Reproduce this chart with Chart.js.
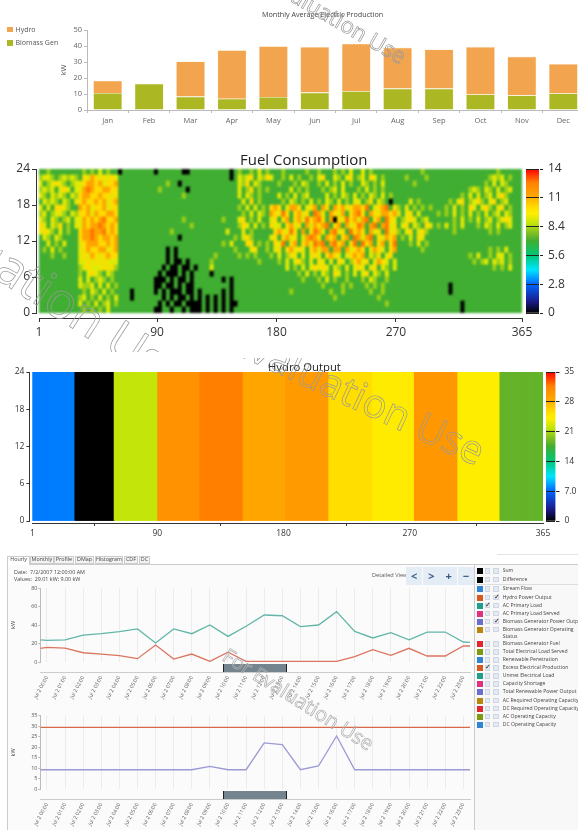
<!DOCTYPE html>
<html><head><meta charset="utf-8">
<script src="https://cdn.jsdelivr.net/npm/chart.js@4"></script>
<style>
html,body{margin:0;padding:0;background:#fff;overflow:hidden}
#stage{position:relative;width:578px;height:830px;overflow:hidden;filter:blur(.45px);font-family:"Open Sans",sans-serif;color:#444}
#stage canvas{position:absolute}
.t{position:absolute;white-space:pre;line-height:1}
.box{position:absolute;box-sizing:border-box}
.wmc{position:absolute;overflow:hidden;left:0;width:578px}
.wm{position:absolute;white-space:pre;transform-origin:0 0;color:transparent;-webkit-text-stroke:.7px #999;line-height:1}
</style></head><body><div id="stage"></div>
<script>
/* ---------- data ---------- */
const months=['Jan','Feb','Mar','Apr','May','Jun','Jul','Aug','Sep','Oct','Nov','Dec'];
const monthDays=[31,28,31,30,31,30,31,31,30,31,30,31];
const hydroMonthly=[7.6,0,21.9,30.3,31.7,28.6,29.6,25.6,24.4,29.8,24.2,18.5];
const biomassMonthly=[10.7,16.4,8.4,7.1,8.2,10.9,11.8,13.4,13.4,9.7,9.2,10.3];
const heatXTicks=[1,90,180,270,365];
const heatYTicks=[0,6,12,18,24];
const fuelBarTicks=[0,2.8,5.6,8.4,11.2,14];
const fuelBarLabels=['0','2.8','5.6','8.4','11','14'];
const hydroBarTicks=[0,7,14,21,28,35];
const hydroBarLabels=['0','7.0','14','21','28','35'];
const fuelLevels={'.':7,'0':0,'8':8.2,'9':9.2,'a':10.3,'b':11.5,'c':12.8};
/* hour 23 first, hour 0 last; one character per 3 days */
const fuelRows=[
"..8....... .8.8.9.8.. 0........0 ......00.. ........0. 8..8.9.8.. .8.....8.. 8...8.8.9. .9.8...... ......8... .......... .....8.... ..",
"8998.89898 .a9ba9a9a9 .......... .......... ........0. 989a.98a9. .8.9.8..8. 9a..98.9a. 89.a9.8... ..8....8.. .......... ...8989.8. ..",
"9.89a98.89 9abbab9aab .......... ..8..0.... .......... 98a.98.... 8...8.98.. 8.9.8.9.8. .98.8.9... ....8..... .......... ..8.9.98.. ..",
"8989.9a9.9 9bcbaabbaa .......... 8......0.. .......... 9.8a.8.8.. ...9.8.8.. .8.89.9... 8.9.8.8... .......... ........89 8.98.9.89. ..",
"98.9898.98 abbaabaa9a .......... ......8... .......... 9.98.8.... 9.8.9.89.. ..9.8.98.9 .8.98.9.8. .......... ......8.9. 9.89.9a8.. ..",
".9898.98.9 abaabab9ab .......... .......... .......... .9.a.8.... .8.98.8.9. 8.98.9.8.9 9.8a.98.0. ...9.8.... ...8.9a.89 a8.9a.89.. ..",
"9.9.aa98.. bab9aab9aa .......... .......... .......... 8.9.9.8.ab a.9bba.9ab .ba.bab9ab bac.9abc.a 8.9.8.8.8. ..8.9.8.a9 .9a8.9a.8. ..",
"89.8998.98 aab9baabba .......... .......... .......... .8.9.98.ba 9ca.ab9a.c b9.ba9b.ab ca.ba9bbab 9.9a.9.... 8.8.9.8.9. 8.9.89.98. ..",
"98.98.89.9 9bababcaab .......... ......8... ......8... 9a.8.9..9a .ab.ab9cab ca.b0a9cab 9bc.ab.ca9 .89a9.89.. ....8.9.8. 9.89.89a9. ..",
"a9.98a.8.9 9babbcbaba .......... ........8. .......... 8a9.9.8.a9 9.ab9a.b9b abc.ab.b9a cb.bc.bc9a .9a.98.a9. 8.9.8.9... 8.98.9.89. ..",
"9a98.9.8.. abbcbbcaba .......... ...8...... .......9.. .9.8.....a ba9ca.b.ac b9.bc9a.ca ba.b9a.c9a 8.9a.9a8.. ....8..... ...8.8.... ..",
".98.98.... abbcbabbab .......... .....0.... .........8 .9a8....9a .ab9a.9bcb a.bab.ab.c b9bc.a9bab .8.9.a9... .......... .......... ..",
"..9.8.9... 9abbbaabab .......... .......... ......8.9. ..aa.8.8.a 9c.ab.ab9c bc.bcab.ac .cab.ab.ac ...8.9.8.. .......... .......... ..",
".8.9.8.... 9abaabb9ab .......... ..0.0..... .........8 ...9a..8.9 a.ab9a9.ab 9bb.bb.b9a ba.9ba9.ab ......8... .......... ...8.8.9.. ..",
"...8..8... 9a9ba9abaa .......... ..0.0..... ....8..... 8.8.8...8. 9.8a9.9.9a 9.aba9.9ab ab.98a.9a. .......... ........8. 9..8.99.8. ..",
".......... 99a9a9a999 .......... ..0.00.0.. ...8...... .....8.... 8.9.9a8.9. a9.9.a9.8a b9a.9ba9.9 .......... .........8 .89.989.8. ..",
".......... 89a999a9a8 .......... .0.00.00.0 ...9...... .......... ..9.8.9.9a 9a9.98.9.9 a9.9a.98.9 .......... .......... ....8.8.9. ..",
".......... 8.9a98.98. .......... 0.000.0.0. ...0...... .......... .....8.9.8 .98.a9.8.9 .9a.98.9.. .......... .......... .......... ..",
".......... 9.9.898.8. .........0 00.0.00.0. ......0.0. .......... ......8... 8.9.8..8.. .8.98..8.. .......... .......... .......... ..",
".......... 9889.9.9.8 .........0 0.00.0.00. ........0. .......... .......... .8....8.8. ..8.8.8... .......... ...0...... .......... ..",
".......... .8.98.9.8. ...0.....0 .0.000.00. 0.....0.0. .......... ...8...... ...8..8... ...8..8... .......... ...0...... .......... ..",
".......... 89.8.9.8.9 ...0...... .0.0.00.0. 0.0.0.0.0. .......... .......... ....8..... .....8.... .......... .......... .......... ..",
".......... 9.8.9.89.8 .......... 0.0.00.000 0.0.0.0.00 .......... .......... .......... .......8.. .......... ......0... .......... ..",
".......... .8.8.8.9.. .........0 0..0..0.00 0.0.0.0.0. .......... .......... .......... .......... .......... ......0... .......... .."
];
const lineHours=[-0.37,0,1,2,3,4,5,6,7,8,9,10,11,12,13,14,15,16,17,18,19,20,21,22,23,23.37];
const tickHours=[0,1,2,3,4,5,6,7,8,9,10,11,12,13,14,15,16,17,18,19,20,21,22,23];
const acPrimaryLoad=[24,23.4,24,29,30.6,32.8,35.7,20.5,35.7,30.6,40,27.7,38.6,50.8,50,38.2,40,54.4,33,26,31.7,24,32.4,32.4,21.6,21.3];
const excessProduction=[14.8,15.8,15,10,8.6,6.8,3.6,18.4,3.2,8.6,.7,10.5,.7,.7,.7,.7,.7,.7,5.8,13.3,7.2,14.8,6.5,6.5,17.3,17.3];
const hydroPower=[29.4,29.4,29.4,29.4,29.4,29.4,29.4,29.4,29.4,29.4,29.4,29.4,29.4,29.4,29.4,29.4,29.4,29.4,29.4,29.4,29.4,29.4,29.4,29.4,29.4,29.4];
const biomassPower=[9.2,9.2,9.2,9.2,9.2,9.2,9.2,9.2,9.2,9.2,10.8,9.2,9.2,22,21.2,9.2,11,25.3,9.2,9.2,9.2,9.2,9.2,9.2,9.2,9.2];
const tabs=['Hourly','Monthly','Profile','DMap','Histogram','CDF','DC'];
const listNames=['Sum','Difference','Stream Flow','Hydro Power Output','AC Primary Load','AC Primary Load Served','Biomass Generator Power Output','Biomass Generator Operating\nStatus','Biomass Generator Fuel','Total Electrical Load Served','Renewable Penetration','Excess Electrical Production','Unmet Electrical Load','Capacity Shortage','Total Renewable Power Output','AC Required Operating Capacity','DC Required Operating Capacity','AC Operating Capacity','DC Operating Capacity'];
const listColors=['#000','#000','#2f85d0','#d65a1f','#1f9e8e','#e0307f','#6a6ed0','#b8860b','#e3262e','#7f9a10','#2f85d0','#d65a1f','#1f9e8e','#e0307f','#6a6ed0','#b8860b','#e3262e','#7f9a10','#2f85d0'];
const listY=[571,579.5,589,597.5,605.5,613.5,621.5,629.5,644,652,660,668,676,684,692,700.5,708.5,716.5,724.5];
const listChecks={3:2,4:1,6:2,11:1};

/* ---------- helpers ---------- */
const FONT='"Open Sans", sans-serif';
const stage=document.getElementById('stage');
Chart.defaults.font.family=FONT;
Chart.defaults.animation=false;
const stops=[[0,'#000000'],[.08,'#1a1a8a'],[.2,'#0066ff'],[.3,'#00e5ff'],[.4,'#00c878'],[.5,'#40ae32'],[.53,'#66b32a'],[.626,'#c4e50a'],[.69,'#ffee00'],[.73,'#ffdf00'],[.817,'#ffa500'],[.85,'#ff9900'],[.906,'#ff8000'],[1,'#ff0000']];
function rgb(h){return [1,3,5].map(i=>parseInt(h.substr(i,2),16));}
function colorAt(f){
  for(let i=1;i<stops.length;i++){ if(f<=stops[i][0]){
    const a=stops[i-1],b=stops[i],k=(f-a[0])/(b[0]-a[0]),A=rgb(a[1]),B=rgb(b[1]);
    return 'rgb('+A.map((v,j)=>Math.round(v+(B[j]-v)*k)).join(',')+')';}}
  return stops[stops.length-1][1];
}
function text(s,x,y,size,color,extra){const d=document.createElement('div');d.className='t';d.textContent=s;
  d.style.cssText+='left:'+x+'px;top:'+y+'px;font-size:'+size+'px;color:'+(color||'#444')+';'+(extra||'');stage.appendChild(d);return d;}
function box(x,y,w,h,css){const d=document.createElement('div');d.className='box';
  d.style.cssText='left:'+x+'px;top:'+y+'px;width:'+w+'px;height:'+h+'px;'+(css||'');stage.appendChild(d);return d;}
const shiftAxes={id:'shiftAxes',afterLayout(c,a,o){
  if(o.dy){c.scales.x.top+=o.dy;c.scales.x.bottom+=o.dy;}
  if(o.dx){c.scales.y.left-=o.dx;c.scales.y.right-=o.dx;}
}};
function place(bx,plot,yw,xh,cfg,side,css){
  const cv=document.createElement('canvas');cv.width=bx.w;cv.height=bx.h;
  cv.style.left=bx.x+'px';cv.style.top=bx.y+'px';cv.style.width=bx.w+'px';cv.style.height=bx.h+'px';
  if(css)cv.style.filter=css;stage.appendChild(cv);
  const o=cfg.options;o.responsive=false;o.maintainAspectRatio=false;o.devicePixelRatio=1;
  o.layout={padding:side==='right'
   ?{left:plot.l-bx.x,right:bx.x+bx.w-plot.r-yw,top:plot.t-bx.y,bottom:bx.y+bx.h-plot.b-xh}
   :{left:plot.l-bx.x-yw,right:bx.x+bx.w-plot.r,top:plot.t-bx.y,bottom:bx.y+bx.h-plot.b-xh}};
  o.scales.x.afterFit=s=>{s.height=xh;s.paddingLeft=0;s.paddingRight=0;};
  o.scales.y.afterFit=s=>{s.width=yw;s.paddingTop=0;s.paddingBottom=0;};
  cfg.plugins=(cfg.plugins||[]).concat([shiftAxes]);
  return new Chart(cv.getContext('2d'),cfg);
}
const noPlug=(extra)=>Object.assign({legend:{display:false},tooltip:{enabled:false},title:{display:false}},extra||{});

/* ---------- monthly stacked bars ---------- */
text('Monthly Average Electric Production',262,11,7.2,'#444');
box(7,26.5,6,5.5,'background:#f2a44f');text('Hydro',15.5,25.5,7,'#555');
box(7,40,6,5.5,'background:#abb824');text('Biomass Gen',15.5,39,7,'#555');
place({x:0,y:0,w:600,h:135},{l:87,r:584,t:30,b:110},28,20,{
 type:'bar',
 data:{labels:months,datasets:[
  {label:'Biomass Gen',data:biomassMonthly,backgroundColor:'#abb824',borderColor:'#f3f0c8',borderWidth:.6},
  {label:'Hydro',data:hydroMonthly,backgroundColor:'#f2a44f',borderColor:'#fbe6c8',borderWidth:.6}]},
 options:{barPercentage:.7,categoryPercentage:1,plugins:noPlug(),
  scales:{
   x:{stacked:true,grid:{drawOnChartArea:false,offset:true,tickLength:3,color:'#bbb'},border:{color:'#bbb'},ticks:{font:{size:7.5},color:'#666',padding:3,maxRotation:0,autoSkip:false}},
   y:{stacked:true,min:0,max:50,grid:{drawOnChartArea:false,tickLength:3,color:'#bbb'},border:{color:'#bbb'},ticks:{stepSize:10,font:{size:7.5},color:'#666',padding:2},
      title:{display:true,text:'kW',font:{size:7.5},color:'#555',padding:0}}
  }}
});

/* ---------- heat maps ---------- */
function heatOpts(size,tickLen,pad,dark,showAxes){return {
  plugins:noPlug({shiftAxes:{dy:pad.dy,dx:pad.dx}}),
  datasets:{bar:{barPercentage:1,categoryPercentage:1,borderWidth:0,barThickness:pad.bar}},
  scales:{
   x:{type:'linear',offset:false,stacked:true,min:1,max:365,afterBuildTicks:s=>{s.ticks=heatXTicks.map(v=>({value:v}));},
      grid:{display:showAxes,drawOnChartArea:false,tickLength:tickLen,color:dark,lineWidth:1},border:{display:showAxes,color:dark,width:1},
      ticks:{display:showAxes,font:{size},color:'#333',padding:pad.xp,maxRotation:0,autoSkip:false}},
   y:{stacked:true,min:0,max:24,afterBuildTicks:s=>{s.ticks=heatYTicks.map(v=>({value:v}));},
      grid:{display:showAxes,drawOnChartArea:false,tickLength:tickLen,color:dark,lineWidth:1},border:{display:showAxes,color:dark,width:1},
      ticks:{display:showAxes,font:{size},color:'#333',padding:2}}
  }};}
function colorBar(bx,plot,maxV,tickVals,tickLabels,size,tl){
  place(bx,plot,bx.x+bx.w-plot.r,0,{
   type:'bar',
   data:{labels:[''],datasets:[{data:[maxV],borderWidth:0,
     backgroundColor:c=>{const a=c.chart.chartArea;if(!a)return '#000';const g=c.chart.ctx.createLinearGradient(0,a.bottom,0,a.top);
       stops.forEach(s=>g.addColorStop(s[0],s[1]));return g;}}]},
   options:{barPercentage:1,categoryPercentage:1,plugins:noPlug(),
    scales:{
     x:{display:false},
     y:{position:'right',min:0,max:maxV,afterBuildTicks:s=>{s.ticks=tickVals.map(v=>({value:v}));},
        grid:{z:1,color:'#222',lineWidth:1,tickLength:tl,drawOnChartArea:true},border:{color:'#222'},
        ticks:{font:{size},color:'#333',padding:5,autoSkip:false,callback:(v)=>tickLabels[tickVals.indexOf(v)]}}
    }}
  },'right');
}

/* Fuel */
text('Fuel Consumption',240,152,15,'#222');
const fuelCols=fuelRows[0].replace(/ /g,'').length;
const fuelDays=[];for(let c=0;c<fuelCols;c++)fuelDays.push(2.5+3*c);
const fuelSets=[];
for(let h=0;h<24;h++){
  const row=fuelRows[23-h].replace(/ /g,'').split('');
  fuelSets.push({data:row.map((_,c)=>({x:fuelDays[c],y:1})),backgroundColor:row.map(ch=>colorAt(fuelLevels[ch]/14))});
}
const fuelBox={x:0,y:160,w:560,h:185},fuelPlot={l:39,r:522,t:169,b:313};
place(fuelBox,fuelPlot,36,25,{type:'bar',data:{datasets:fuelSets},
  options:heatOpts(12,4,{dy:5,dx:3,bar:4.4,xp:3},'#333',false)},null,'blur(.9px)');
place(fuelBox,fuelPlot,36,25,{type:'scatter',data:{datasets:[]},
  options:heatOpts(12,4,{dy:5,dx:3,bar:4.4,xp:3},'#333',true)});
colorBar({x:526,y:160,w:52,h:165},{l:526,r:539,t:169,b:313},14,fuelBarTicks,fuelBarLabels,12,4);

/* Hydro */
text('Hydro Output',268,361,11.3,'#222');
const hydroDaily=[];let dayN=1;
monthDays.forEach((n,m)=>{for(let i=0;i<n;i++){hydroDaily.push({x:dayN++,y:24,m});}});
place({x:0,y:360,w:560,h:185},{l:32.4,r:543,t:372,b:521},30,20,{type:'bar',
  data:{datasets:[{data:hydroDaily.map(p=>({x:p.x,y:p.y})),backgroundColor:hydroDaily.map(p=>colorAt(hydroMonthly[p.m]/35))}]},
  options:heatOpts(8.5,3,{dy:2,dx:3,bar:2.2,xp:2},'#333',true)});
colorBar({x:546,y:362,w:32,h:170},{l:546,r:555.5,t:372,b:521},35,hydroBarTicks,hydroBarLabels,8.5,4);

/* ---------- hourly panel chrome ---------- */
box(7,564,571,266,'background:#fbfbfb;border-left:1.5px solid #ccc;border-top:1px solid #ccc');
box(497,554,81,1,'background:#e4e4e4');
const tabX=[[7.3,30],[30.3,53.6],[54,74],[75,94],[95,123],[124,138],[139,150]];
tabs.forEach((t,i)=>{
  const a=i===0;
  box(tabX[i][0],555.5,tabX[i][1]-tabX[i][0],a?9.5:8.5,'border:.8px solid #ccc;'+(a?'background:#fff;border-bottom:none;':'background:#f2f2f2;'));
  text(t,tabX[i][0],557.3,5.4,'#444','width:'+(tabX[i][1]-tabX[i][0])+'px;text-align:center;');
});
text('Date:  7/2/2007 12:00:00 AM',14,569.5,5.4,'#444');
text('Values:  29.01 kW; 9.00 kW',14,577,5.4,'#444');
text('Detailed View',372,573,5.6,'#555');
['<','>','+','\u2212'].forEach((s,i)=>{
  box(406+i*17.2,567,16.4,18,'background:#e4ecf5');
  text(s,406+i*17.2,570,11,'#3a5a80','width:16.4px;text-align:center;font-weight:700;');
});
box(474,564.5,104,266,'background:#f8f8f8;border-left:1.5px solid #ccc');
box(476,583.5,102,.8,'background:#ddd');
listNames.forEach((n,i)=>{
  const y=listY[i];
  box(476.5,y-3,6.2,6.2,'background:'+listColors[i]);
  [484.5,493].forEach((x,k)=>{
    box(x,y-3,5.8,5.8,'background:#e4eaf3;border:.6px solid #cfd6e2');
    if(listChecks[i]===k+1)text('\u2713',x+.6,y-3.6,6.5,'#222');
  });
  const lines=n.split('\n');
  lines.forEach((l,j)=>text(l,502.7,y-2.6+j*7,5.1,'#444'));
});

/* ---------- hourly line charts ---------- */
function lineOpts(maxV,step){return {
  plugins:noPlug({shiftAxes:{dy:10}}),
  elements:{point:{radius:0},line:{borderWidth:1.3,tension:0}},
  scales:{
   x:{type:'linear',min:-0.37,max:23.37,afterBuildTicks:s=>{s.ticks=tickHours.map(v=>({value:v}));},
      grid:{color:'#e9e9e9',lineWidth:.8,tickLength:0},border:{color:'#ccc'},
      ticks:{font:{size:5.2},color:'#555',padding:3,maxRotation:62,minRotation:62,autoSkip:false,
        callback:v=>'Jul 2 '+String(v).padStart(2,'0')+':00'}},
   y:{min:0,max:maxV,grid:{drawOnChartArea:false,tickLength:2,color:'#bbb'},border:{color:'#bbb'},
      ticks:{stepSize:step,font:{size:5.4},color:'#555',padding:1},
      title:{display:true,text:'kW',font:{size:5.6},color:'#444',padding:0}}
  }};}
const xy=a=>a.map((v,i)=>({x:lineHours[i],y:v}));
place({x:8,y:580,w:470,h:125},{l:40.3,r:470,t:588,b:662},30,34,{type:'line',data:{datasets:[
  {data:xy(acPrimaryLoad),borderColor:'#62b6a8'},{data:xy(excessProduction),borderColor:'#dc7560'}]},
  options:lineOpts(80,10)});
place({x:8,y:708,w:470,h:122},{l:40.3,r:470,t:715.7,b:789},30,31,{type:'line',data:{datasets:[
  {data:xy(hydroPower),borderColor:'#d9694a'},{data:xy(biomassPower),borderColor:'#9a9ad6'}]},
  options:lineOpts(35,5)});
[[663.5],[790.5]].forEach(r=>{
  box(223,r[0],64,8.5,'background:#74858f;border-left:1.5px solid #222;border-right:1.5px solid #222');
});

/* ---------- watermarks ---------- */
function wm(clipTop,clipH,x,y,size,deg,color){
  const c=document.createElement('div');c.className='wmc';c.style.top=clipTop+'px';c.style.height=clipH+'px';
  const d=document.createElement('div');d.className='wm';d.textContent='For Evaluation Use';
  d.style.left=x+'px';d.style.top=(y-clipTop)+'px';d.style.fontSize=size+'px';d.style.transform='rotate('+deg+'deg)';
  if(color)d.style.webkitTextStroke='.7px '+color;
  c.appendChild(d);stage.appendChild(c);
}
wm(0,75,245,-48,22,30);
wm(358,125,177,288,40,25);
wm(250,102,-163,123,50,33);
wm(630,130,230,645,20,32,'#b0b0b0');
</script></body></html>
